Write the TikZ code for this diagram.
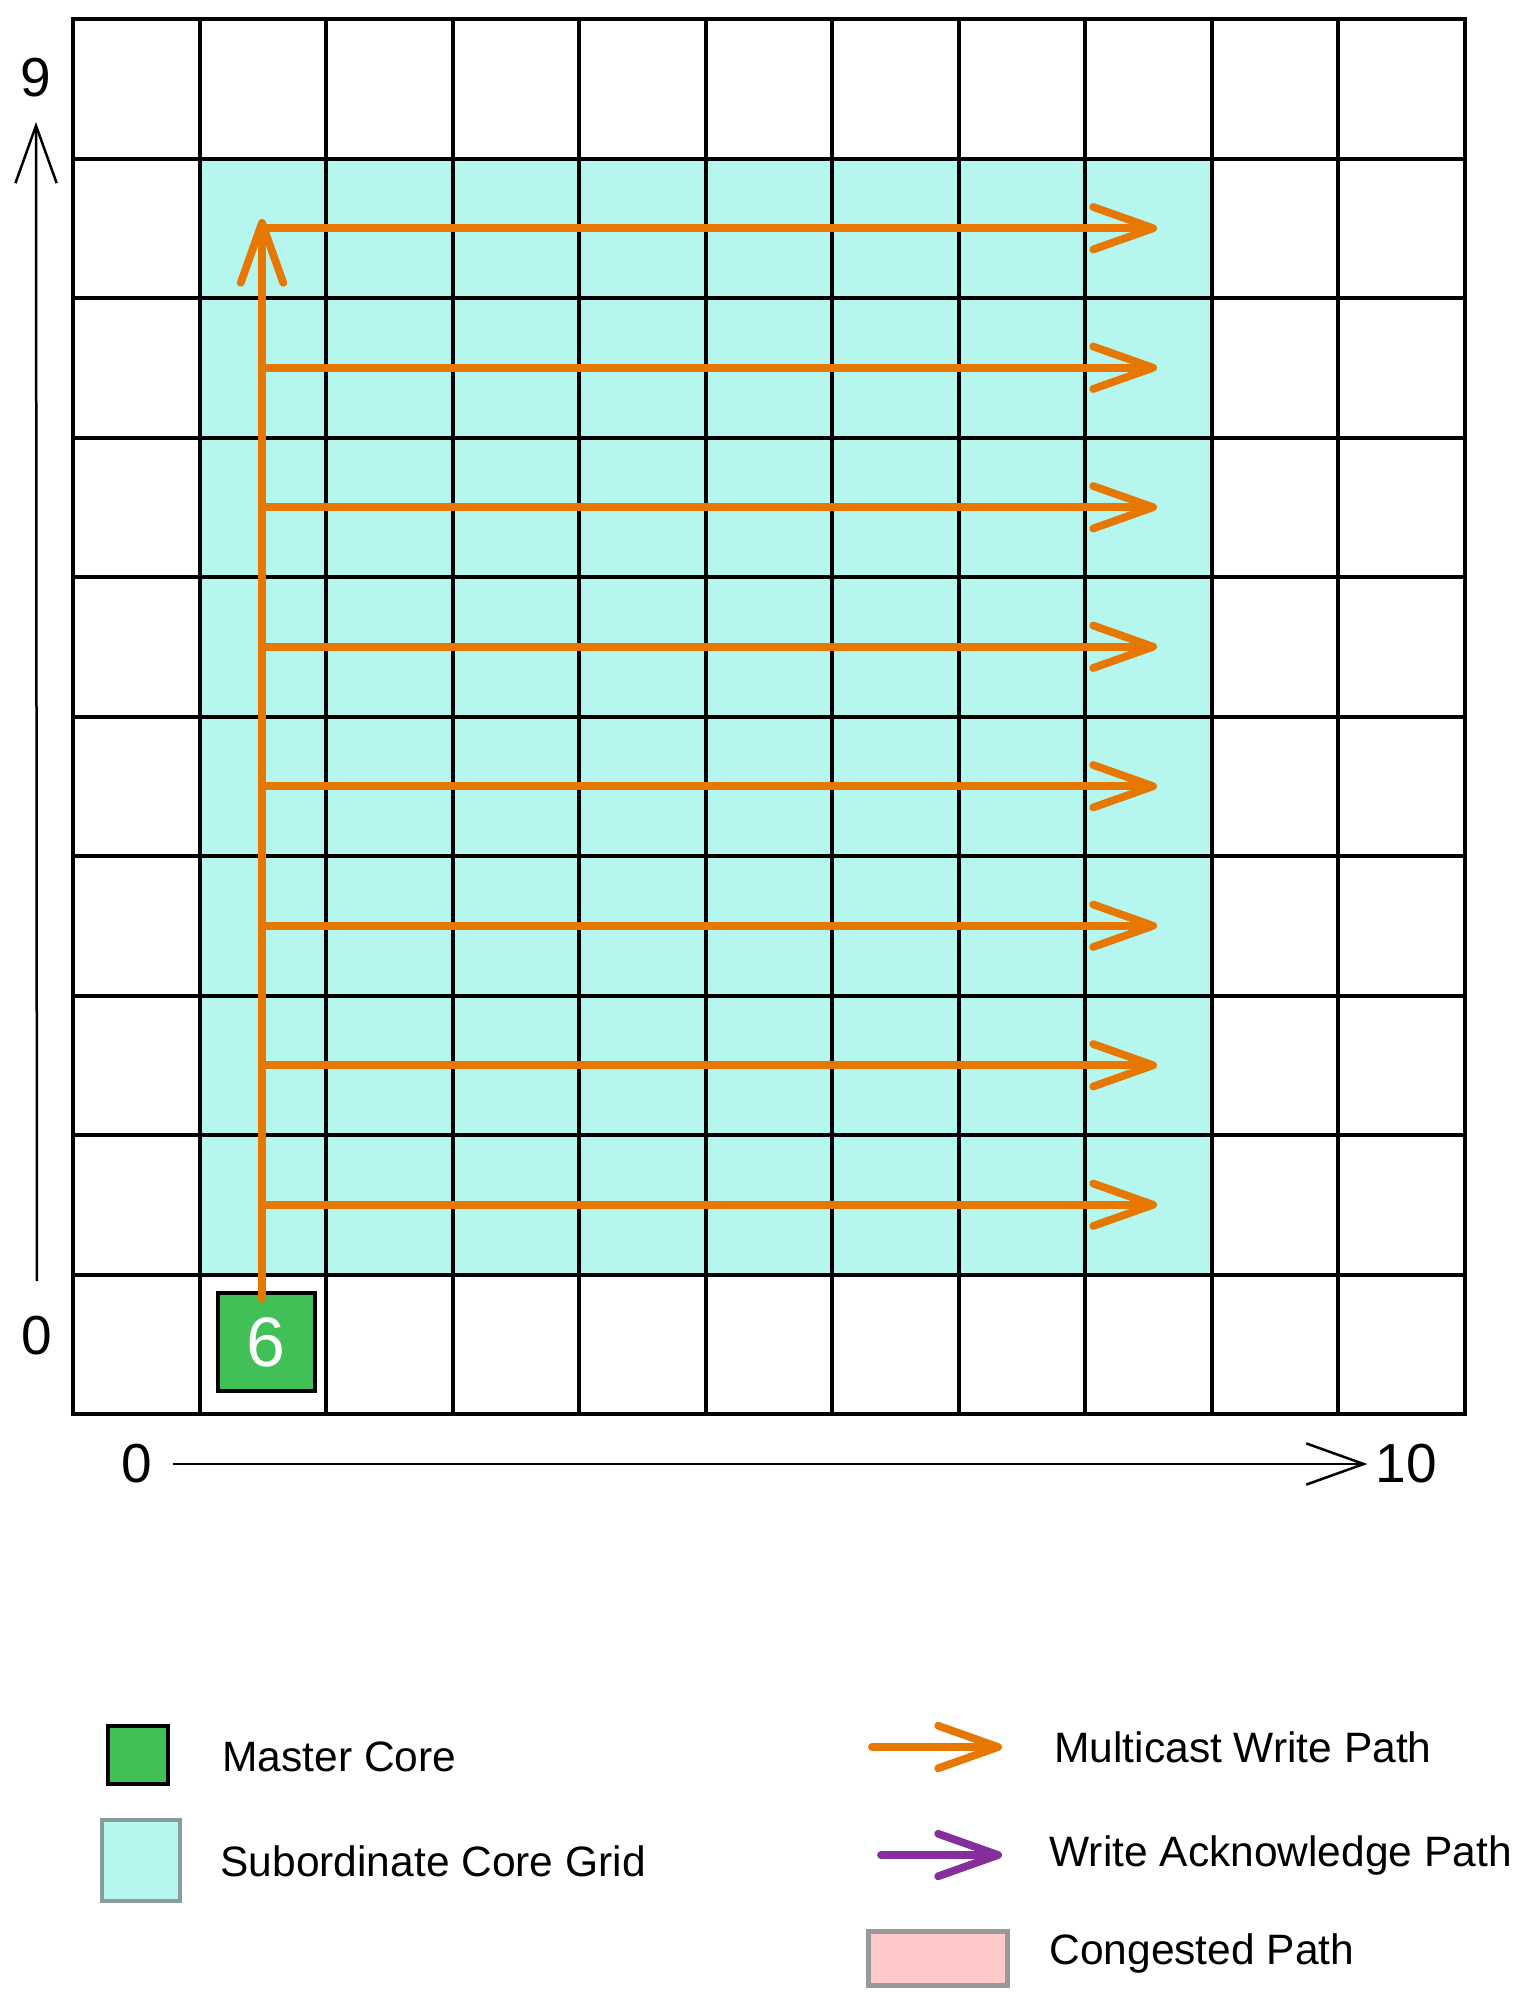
\documentclass[tikz,border=0pt]{standalone}
\usepackage{fontspec}
\setmainfont{Liberation Sans}
\usetikzlibrary{arrows.meta}

\definecolor{mcorange}{HTML}{E67700}
\definecolor{ackpurple}{HTML}{862E9C}
\definecolor{mastergreen}{HTML}{40C057}
\definecolor{subcyan}{HTML}{B5F7EF}
\definecolor{subedge}{HTML}{889C9A}
\definecolor{congpink}{HTML}{FFC9C9}

\begin{document}
\begin{tikzpicture}[
    x=0.4pt, y=-0.4pt,
    cell/.style={draw=black,line width=1.6pt},
    subgrid/.style={fill=subcyan,draw=subedge,line width=1pt},
    master/.style={draw,line width=1.6pt,fill=mastergreen,text=white,
                   minimum width=38.8pt,minimum height=39.2pt,inner sep=0pt,
                   font=\fontsize{28}{30}\selectfont},
    mcast/.style={-{Straight Barb[length=24pt,width=17pt,round]},
                  mcorange,line width=3.1pt,line cap=round},
    ack/.style={mcast,ackpurple},
    axis/.style={-{Straight Barb[length=23pt,width=16.5pt]},line width=1pt},
    axlabel/.style={font=\fontsize{22}{24}\selectfont,inner sep=0pt},
    legtxt/.style={anchor=west,inner sep=0pt,font=\fontsize{17}{20}\selectfont},
  ]

  \useasboundingbox (0,0) rectangle (1533,2001);

  % --- subordinate core grid (under the mesh) ---
  \path[subgrid] (199.5,158.5) rectangle (1211.5,1274.5);

  % --- 11 x 10 mesh of cores ---
  \foreach \c in {0,...,10}
    \foreach \r in {0,...,9}
      \draw[cell] (73+126.5*\c,19+139.5*\r) rectangle ++(126.5,139.5);

  % --- master core ---
  \node[master] (mc) at (266,1342) {6};

  % --- multicast write path ---
  \coordinate (up) at (262,219);
  \draw[mcast] ([xshift=-1.6pt,yshift=-3.2pt]mc.north) -- (up);
  \foreach \r in {1,...,8} {
    \coordinate (src\r) at (262,88.75+139.5*\r);
    \coordinate (dst\r) at (1157,88.75+139.5*\r);
    \draw[mcast] (src\r) -- (dst\r);
  }

  % --- axes ---
  \node[axlabel] (y9)  at (36,78)     {9};
  \node[axlabel] (y0)  at (37,1336)   {0};
  \node[axlabel] (x0)  at (137,1464)  {0};
  \node[axlabel] (x10) at (1406,1464) {10};
  \draw[axis,shorten <=14pt,shorten >=9.6pt] (y0.north) -- (y9.south);
  \draw[axis,shorten <=8pt,shorten >=3pt] (x0.east) -- (x10.west);

  % --- legend ---
  \node[draw,line width=1.6pt,fill=mastergreen,minimum width=24pt,
        minimum height=23.2pt] (lgmaster) at (138,1755) {};
  \node[legtxt] (lgmastertxt) at (222,1757) {Master Core};

  \node[draw=subedge,line width=1.6pt,fill=subcyan,minimum width=31.2pt,
        minimum height=32.4pt] (lgsub) at (141,1860) {};
  \node[legtxt] (lgsubtxt) at (220,1861) {Subordinate Core Grid};

  \coordinate (lgw0) at (872,1747);
  \coordinate (lgw1) at (1002,1747);
  \draw[mcast] (lgw0) -- (lgw1);
  \node[legtxt] (lgwtxt) at (1054,1747) {Multicast Write Path};

  \coordinate (lga0) at (881,1855);
  \coordinate (lga1) at (1002,1855);
  \draw[ack] (lga0) -- (lga1);
  \node[legtxt] (lgatxt) at (1049,1855) {Write Acknowledge Path};

  \node[draw=black!40,line width=2pt,fill=congpink,minimum width=55.6pt,
        minimum height=21.6pt] (lgcong) at (938,1958) {};
  \node[legtxt] (lgcongtxt) at (1049,1953) {Congested Path};

\end{tikzpicture}
\end{document}
